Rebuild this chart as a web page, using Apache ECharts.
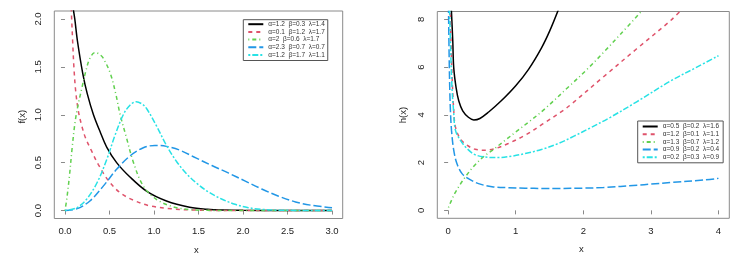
<!DOCTYPE html>
<html><head><meta charset="utf-8">
<script src="https://cdn.jsdelivr.net/npm/echarts@6/dist/echarts.min.js"></script>
<style>html,body{margin:0;padding:0;background:#fff}#c{width:737px;height:260px}</style>
</head><body><div id="c"></div>
<script>
// ---- data ----
const leftNames = ['α=1.2  β=0.3  λ=1.4','α=0.1  β=1.2  λ=1.7','α=2  β=0.6  λ=1.7','α=2.3  β=0.7  λ=0.7','α=1.2  β=1.7  λ=1.1'];
const rightNames = ['α=0.5  β=0.2  λ=1.6','α=1.2  β=0.1  λ=1.1','α=1.3  β=0.7  λ=1.2','α=0.9  β=0.2  λ=0.4','α=0.2  β=0.3  λ=0.9'];
const leftXTicks = [0,0.5,1,1.5,2,2.5,3];
const leftYTicks = [0,0.5,1,1.5,2];
const rightXTicks = [0,1,2,3,4];
const rightYTicks = [0,2,4,6,8];

const f1 = [[0.09,2.12],[0.11,2.0],[0.14,1.77],[0.2,1.43],[0.25,1.22],[0.32,1.0],[0.4,0.81],[0.47,0.66],[0.58,0.5],[0.73,0.35],[0.92,0.2],[1.14,0.1],[1.4,0.035],[1.6,0.013],[1.8,0.005],[2.0,0.002],[2.5,0],[3,0]];
const f2 = [[0.07,2.12],[0.075,2.0],[0.086,1.77],[0.1,1.5],[0.12,1.25],[0.15,1.04],[0.19,0.88],[0.23,0.76],[0.3,0.62],[0.375,0.48],[0.49,0.31],[0.62,0.185],[0.77,0.108],[0.95,0.05],[1.2,0.018],[1.45,0.005],[2,0],[3,0]];
const f3 = [[0,0],[0.02,0.12],[0.05,0.36],[0.08,0.65],[0.11,0.9],[0.14,1.07],[0.19,1.28],[0.23,1.44],[0.28,1.59],[0.34,1.65],[0.39,1.63],[0.43,1.59],[0.51,1.43],[0.57,1.22],[0.62,1.0],[0.685,0.78],[0.77,0.5],[0.88,0.255],[1.03,0.115],[1.22,0.038],[1.4,0.01],[1.6,0.002],[2,0],[3,0]];
const f4 = [[0,0],[0.13,0.017],[0.28,0.1],[0.43,0.255],[0.58,0.43],[0.73,0.57],[0.88,0.655],[1.01,0.68],[1.14,0.67],[1.29,0.63],[1.47,0.55],[1.65,0.47],[1.84,0.39],[2.02,0.31],[2.21,0.225],[2.4,0.15],[2.59,0.09],[2.77,0.055],[3.0,0.03]];
const f5 = [[0,0],[0.13,0.028],[0.24,0.115],[0.36,0.29],[0.47,0.535],[0.56,0.78],[0.655,1.0],[0.73,1.1],[0.8,1.135],[0.87,1.11],[0.92,1.06],[1.03,0.88],[1.14,0.68],[1.255,0.51],[1.37,0.38],[1.48,0.285],[1.61,0.195],[1.76,0.12],[1.91,0.065],[2.06,0.03],[2.21,0.012],[2.44,0.003],[3,0]];

const h1 = [[0.045,8.6],[0.049,8.35],[0.069,7.09],[0.083,5.98],[0.118,5.14],[0.157,4.59],[0.216,4.17],[0.3,3.9],[0.38,3.79],[0.47,3.85],[0.6,4.12],[0.79,4.6],[1.0,5.22],[1.19,5.91],[1.38,6.8],[1.5,7.5],[1.63,8.4]];
const h2 = [[0.03,8.6],[0.045,6.8],[0.06,5.5],[0.083,4.2],[0.108,3.5],[0.18,3.0],[0.28,2.73],[0.4,2.56],[0.55,2.52],[0.7,2.59],[0.89,2.8],[1.14,3.15],[1.4,3.62],[1.71,4.2],[1.81,4.42],[2.3,5.6],[2.79,6.77],[3.29,7.95],[3.45,8.4]];
const h3 = [[0.005,0.12],[0.05,0.42],[0.1,0.72],[0.17,1.05],[0.255,1.4],[0.38,1.85],[0.52,2.24],[0.67,2.55],[0.85,2.95],[1.0,3.28],[1.2,3.72],[1.41,4.2],[1.81,5.25],[2.06,5.92],[2.3,6.62],[2.55,7.38],[2.88,8.4]];
const h4 = [[0.005,8.6],[0.015,6.5],[0.025,5.0],[0.034,4.2],[0.05,3.36],[0.083,2.52],[0.13,1.96],[0.206,1.54],[0.3,1.33],[0.45,1.12],[0.65,0.99],[0.89,0.95],[1.14,0.93],[1.4,0.92],[1.63,0.92],[2.0,0.93],[2.3,0.96],[2.8,1.05],[3.0,1.1],[3.3,1.17],[3.78,1.27],[4.0,1.34]];
const h5 = [[0.02,8.6],[0.04,6.5],[0.06,5.0],[0.08,4.2],[0.108,3.36],[0.18,2.94],[0.28,2.59],[0.4,2.33],[0.6,2.22],[0.745,2.21],[0.94,2.27],[1.14,2.38],[1.38,2.55],[1.63,2.8],[1.87,3.12],[2.1,3.45],[2.4,3.9],[2.79,4.55],[3.29,5.42],[3.68,6.0],[4.0,6.48]];

// ---- styles ----
const colors = ['#000000','#DF536B','#61D04F','#2297E6','#28E2E5'];
const dashes = ['solid',[4,4],[1,3,4,3],[8,3],[2,2,6,2]];
const FONT = 'Liberation Sans';
const gridColor = '#8a8a8a';

function mkSeries(name, data, i, axisIdx){
  return {type:'line', name, data, xAxisIndex:axisIdx, yAxisIndex:axisIdx,
    showSymbol:false, symbol:'none', smooth:0.35, clip:true, animation:false,
    lineStyle:{color:colors[i], width:1.5, type:dashes[i]}, itemStyle:{color:colors[i]}};
}
function xAx(gi,min,max,ticks,fmt){
  return {type:'value', gridIndex:gi, min, max, splitLine:{show:false},
    axisLine:{show:false},
    axisTick:{show:true, length:4, customValues:ticks, lineStyle:{color:gridColor}},
    axisLabel:{customValues:ticks, formatter:fmt, fontSize:9.5, fontFamily:FONT, color:'#222', margin:8}};
}
function yAx(gi,min,max,ticks,fmt){
  return {type:'value', gridIndex:gi, min, max, splitLine:{show:false},
    axisLine:{show:false},
    axisTick:{show:true, length:4, customValues:ticks, lineStyle:{color:gridColor}},
    axisLabel:{customValues:ticks, formatter:fmt, rotate:90, fontSize:9.5, fontFamily:FONT, color:'#222', margin:11}};
}
const legendCommon = {orient:'vertical', itemWidth:15, itemHeight:6, itemGap:0.7,
  borderColor:'#555', borderWidth:1, selectedMode:false,
  itemStyle:{opacity:0}, lineStyle:{width:2},
  textStyle:{fontSize:6.5, fontFamily:FONT, color:'#333', lineHeight:6}};

const leftData = [f1,f2,f3,f4,f5];
const rightData = [h1,h2,h3,h4,h5];
const series = [];
leftData.forEach((d,i)=>series.push(mkSeries(leftNames[i], d, i, 0)));
rightData.forEach((d,i)=>series.push(mkSeries(rightNames[i], d, i, 1)));

const chart = echarts.init(document.getElementById('c'), null, {renderer:'canvas'});
chart.setOption({
  animation:false,
  backgroundColor:'#fff',
  grid:[
    {left:54.3, right:394.3, top:11, bottom:41.5, show:true, borderColor:gridColor, borderWidth:1},
    {left:437.3, right:7.7, top:11.5, bottom:41.7, show:true, borderColor:gridColor, borderWidth:1}
  ],
  xAxis:[
    xAx(0,-0.12,3.12,leftXTicks,v=>v.toFixed(1)),
    xAx(1,-0.16,4.16,rightXTicks,v=>String(v))
  ],
  yAxis:[
    yAx(0,-0.083,2.083,leftYTicks,v=>v.toFixed(1)),
    yAx(1,-0.333,8.333,rightYTicks,v=>String(v))
  ],
  legend:[
    Object.assign({}, legendCommon, {data:leftNames, left:243.3, top:19.7, padding:[1,3,2,4]}),
    Object.assign({}, legendCommon, {data:rightNames, left:637.7, top:121, padding:[2,4,2,4]})
  ],
  graphic:[
    {type:'text', left:194, top:245, style:{text:'x', fontSize:9.5, fontFamily:FONT, fill:'#222'}},
    {type:'text', x:22, y:116.7, rotation:Math.PI/2, style:{text:'f(x)', fontSize:9.5, fontFamily:FONT, fill:'#222', align:'center', verticalAlign:'middle'}},
    {type:'text', left:579, top:244, style:{text:'x', fontSize:9.5, fontFamily:FONT, fill:'#222'}},
    {type:'text', x:403, y:115, rotation:Math.PI/2, style:{text:'h(x)', fontSize:9.5, fontFamily:FONT, fill:'#222', align:'center', verticalAlign:'middle'}}
  ],
  series
});
</script>
</body></html>
